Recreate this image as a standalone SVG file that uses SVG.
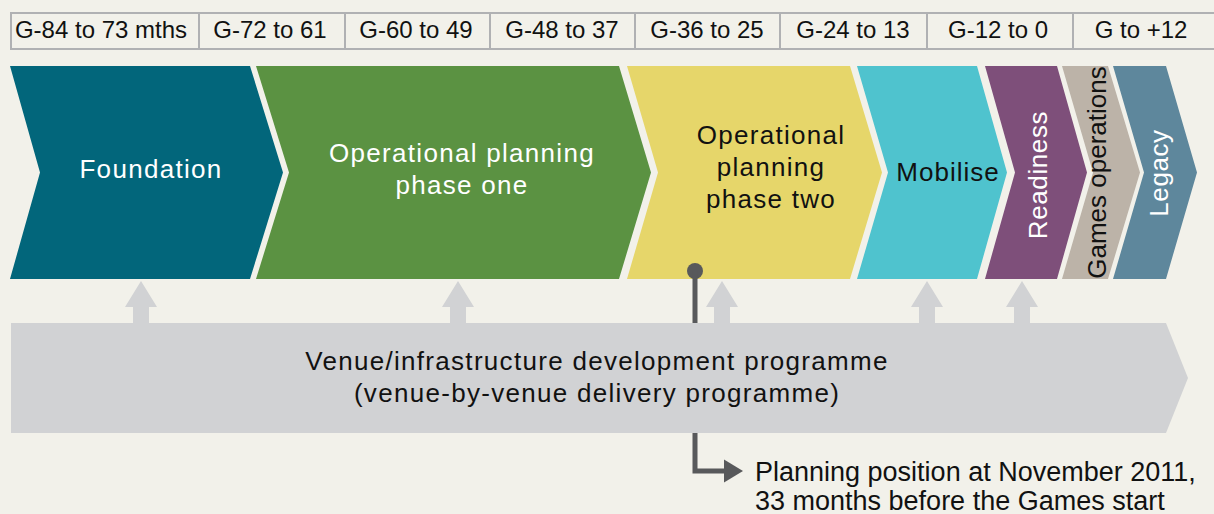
<svg xmlns="http://www.w3.org/2000/svg" width="1214" height="514" viewBox="0 0 1214 514">
<style>
  .hdr { fill: #f2f1ea; stroke: #b0b1b3; stroke-width: 2; }
  .htxt { font-family: "Liberation Sans", Arial, sans-serif; font-size: 24px; fill: #111; text-anchor: middle; }
  .ctxt { font-family: "Liberation Sans", Arial, sans-serif; font-size: 26px; text-anchor: middle; letter-spacing: 1.3px; }
  .w { fill: #ffffff; }
  .k { fill: #111111; }
  .btxt { font-family: "Liberation Sans", Arial, sans-serif; font-size: 26px; fill: #111; text-anchor: middle; letter-spacing: 1.3px; }
  .atxt { font-family: "Liberation Sans", Arial, sans-serif; font-size: 27px; fill: #111; }
  .up { fill: #d1d2d4; }
  .dark { stroke: #58595b; stroke-width: 5; fill: none; }
</style>
<rect x="0" y="0" width="1214" height="514" fill="#f2f1ea"/>

<g id="timeline-header">
  <g id="h1"><rect class="hdr" x="11" y="13" width="188" height="36"/><text class="htxt" x="101" y="37.5">G-84 to 73 mths</text></g>
  <g id="h2"><rect class="hdr" x="199" y="13" width="146" height="36"/><text class="htxt" x="270" y="37.5">G-72 to 61</text></g>
  <g id="h3"><rect class="hdr" x="345" y="13" width="145" height="36"/><text class="htxt" x="416" y="37.5">G-60 to 49</text></g>
  <g id="h4"><rect class="hdr" x="490" y="13" width="145" height="36"/><text class="htxt" x="562" y="37.5">G-48 to 37</text></g>
  <g id="h5"><rect class="hdr" x="635" y="13" width="145" height="36"/><text class="htxt" x="707" y="37.5">G-36 to 25</text></g>
  <g id="h6"><rect class="hdr" x="780" y="13" width="147" height="36"/><text class="htxt" x="853" y="37.5">G-24 to 13</text></g>
  <g id="h7"><rect class="hdr" x="927" y="13" width="146" height="36"/><text class="htxt" x="998" y="37.5">G-12 to 0</text></g>
  <g id="h8"><rect class="hdr" x="1073" y="13" width="150" height="36"/><text class="htxt" x="1141" y="37.5">G to +12</text></g>
</g>

<g id="foundation">
  <polygon points="10,66 250,66 283,172.5 250,279 10,279 40,172.5" fill="#02667b"/>
  <text class="ctxt w" x="151" y="178">Foundation</text>
</g>
<g id="op-phase-one">
  <polygon points="256,66 619,66 651,172.5 619,279 256,279 289,172.5" fill="#5b9242"/>
  <text class="ctxt w" x="462" y="162">Operational planning</text>
  <text class="ctxt w" x="462" y="193.5">phase one</text>
</g>
<g id="op-phase-two">
  <polygon points="627,66 850,66 882,172.5 850,279 627,279 658,172.5" fill="#e6d66a"/>
  <text class="ctxt k" x="771" y="144">Operational</text>
  <text class="ctxt k" x="771" y="176">planning</text>
  <text class="ctxt k" x="771" y="208">phase two</text>
</g>
<g id="mobilise">
  <polygon points="857,66 977,66 1007,172.5 977,279 857,279 888,172.5" fill="#4fc3ce"/>
  <text class="ctxt k" x="948" y="181" style="letter-spacing:1px">Mobilise</text>
</g>
<g id="readiness">
  <polygon points="985,66 1057,66 1087,172.5 1057,279 985,279 1015,172.5" fill="#7e4f7a"/>
  <text class="ctxt w" transform="translate(1047,175) rotate(-90)" style="letter-spacing:0.6px">Readiness</text>
</g>
<g id="games-operations">
  <polygon points="1062,66 1108,66 1140,172.5 1108,279 1062,279 1093,172.5" fill="#bcb3a8"/>
  <text class="ctxt k" transform="translate(1106,172.5) rotate(-90)" style="letter-spacing:0px">Games operations</text>
</g>
<g id="legacy">
  <polygon points="1113,66 1166,66 1197,172.5 1166,279 1113,279 1144,172.5" fill="#5e879c"/>
  <text class="ctxt w" transform="translate(1168,173) rotate(-90)" style="letter-spacing:0.6px">Legacy</text>
</g>

<g id="venue-programme">
  <polygon points="11,323 1166,323 1188,378 1166,433 11,433" fill="#d1d2d4"/>
  <text class="btxt" x="597" y="370">Venue/infrastructure development programme</text>
  <text class="btxt" x="597" y="402">(venue-by-venue delivery programme)</text>
</g>

<g id="connectors">
  <polygon class="up" points="141,281 157,307 149,307 149,324 133,324 133,307 125,307"/>
  <polygon class="up" points="458,281 474,307 466,307 466,324 450,324 450,307 442,307"/>
  <polygon class="up" points="722,281 738,307 730,307 730,324 714,324 714,307 706,307"/>
  <polygon class="up" points="927,281 943,307 935,307 935,324 919,324 919,307 911,307"/>
  <polygon class="up" points="1022,281 1038,307 1030,307 1030,324 1014,324 1014,307 1006,307"/>
  <g id="position-marker">
    <circle cx="695" cy="271" r="8" fill="#58595b"/>
    <line class="dark" x1="695" y1="271" x2="695" y2="323"/>
    <polyline class="dark" points="695,433 695,471 726,471"/>
    <polygon points="724,459.5 743,471 724,482.5" fill="#58595b"/>
  </g>
</g>

<g id="annotation">
  <text class="atxt" x="755" y="481">Planning position at November 2011,</text>
  <text class="atxt" x="755" y="510">33 months before the Games start</text>
</g>
</svg>
